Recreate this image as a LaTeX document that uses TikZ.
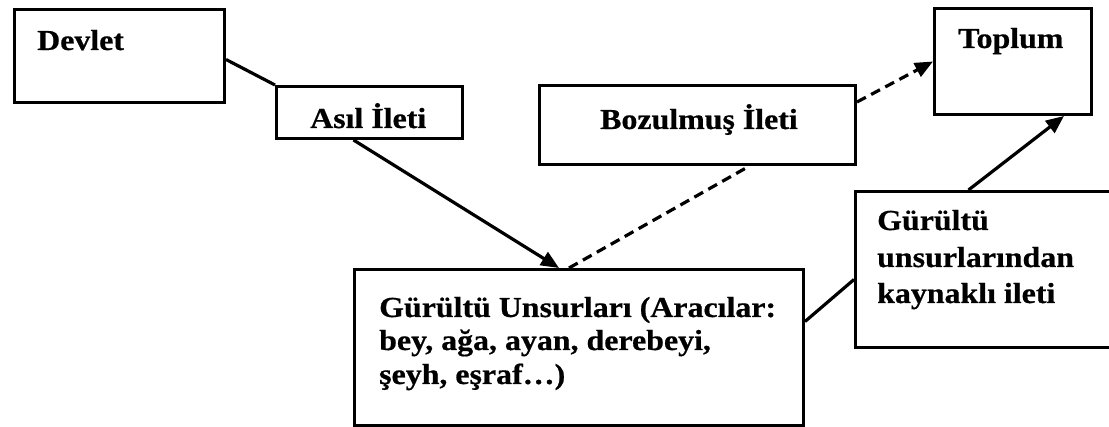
\documentclass[tikz,border=0pt]{standalone}
\usepackage{fontspec}
\newfontfamily\diagfont{Liberation Serif}[FakeStretch=1.1,FakeBold=0.6]
\usetikzlibrary{arrows.meta}
\begin{document}
\begin{tikzpicture}[x=1pt,y=-1pt,
  box/.style={draw=black, line width=3pt, rectangle, inner sep=0pt, anchor=north west, fill=white},
  lbl/.style={anchor=base west, inner sep=0pt, font=\diagfont\bfseries\fontsize{29}{34}\selectfont},
  conn/.style={line width=3.2pt, black},
  tip/.style={-{Triangle[length=18pt,width=15pt]}},
  dashedconn/.style={conn, dash pattern=on 10pt off 6pt}]
\useasboundingbox (0,0) rectangle (1109,427);
% boxes
\node[box, minimum width=210pt, minimum height=93pt] (devlet) at (13,8) {};
\node[box, minimum width=186pt, minimum height=52pt] (asil) at (275,85) {};
\node[box, minimum width=316pt, minimum height=79pt] (bozul) at (538,84) {};
\node[box, minimum width=157pt, minimum height=106pt] (toplum) at (933,7) {};
\node[box, minimum width=449pt, minimum height=156pt] (gurultu) at (353,268) {};
\node[box, minimum width=262pt, minimum height=156pt] (kaynak) at (854,190) {};
% texts
\node[lbl] (tdevlet) at (37,50) {Devlet};
\node[lbl] (tasil) at (310,128) {Asıl İleti};
\node[lbl] (tbozul) at (600,129) {Bozulmuş İleti};
\node[lbl] (ttoplum) at (958,48) {Toplum};
\node[lbl] (tg1) at (379,317) {Gürültü Unsurları (Aracılar:};
\node[lbl] (tg2) at (379,350) {bey, ağa, ayan, derebeyi,};
\node[lbl] (tg3) at (379,384) {şeyh, eşraf…)};
\node[lbl] (tk1) at (877,230) {Gürültü};
\node[lbl] (tk2) at (877,267) {unsurlarından};
\node[lbl] (tk3) at (877,303) {kaynaklı ileti};
% connectors
\draw[conn] ([yshift=-3.5pt]devlet.east) -- (asil.north west);
\draw[conn, tip] ([xshift=-16pt]asil.south) -- ([xshift=-20pt]gurultu.north);
\draw[dashedconn] ([xshift=-10pt]gurultu.north) -- ([xshift=52pt]bozul.south);
\draw[dashedconn, tip] ([yshift=23pt]bozul.east) -- (toplum.west);
\draw[conn] ([yshift=26pt]gurultu.east) -- ([yshift=-10pt]kaynak.west);
\draw[conn, tip] ([xshift=-18pt]kaynak.north) -- ([xshift=51pt]toplum.south);
\end{tikzpicture}
\end{document}
